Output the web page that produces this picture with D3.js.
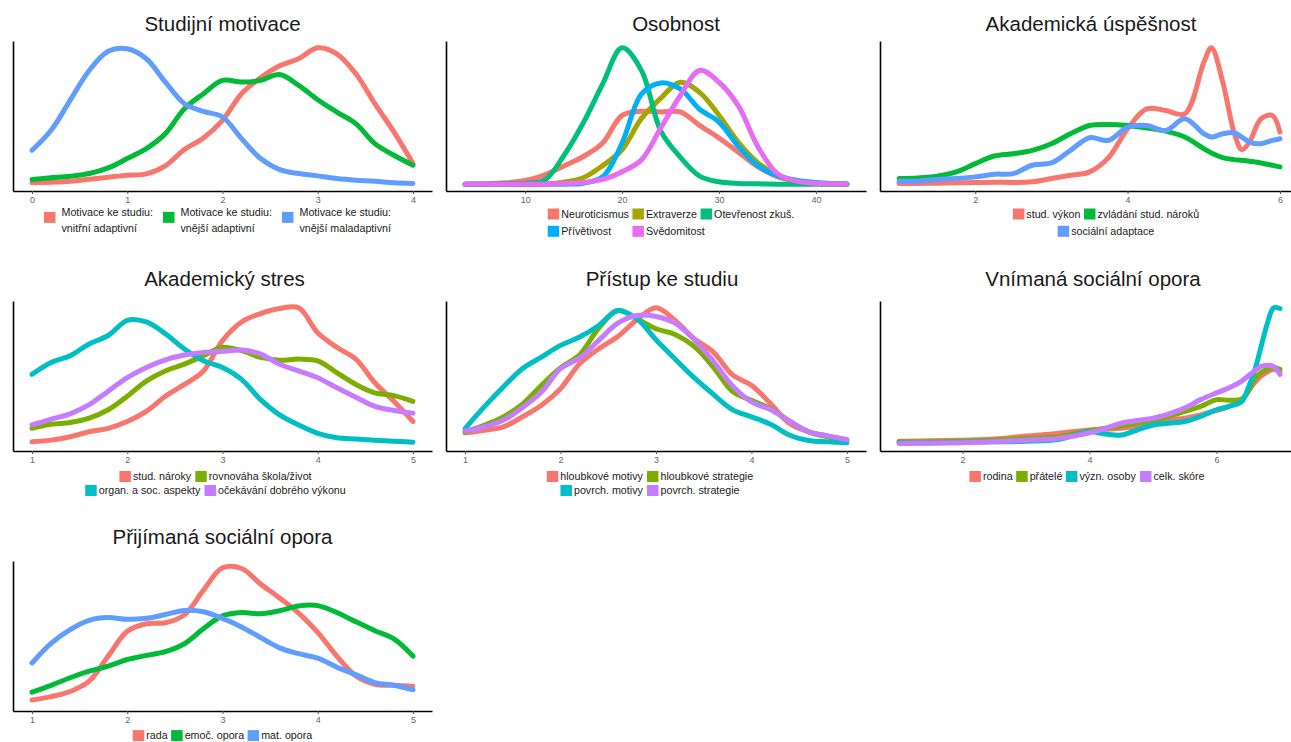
<!DOCTYPE html>
<html>
<head>
<meta charset="utf-8">
<script src="https://cdn.jsdelivr.net/npm/d3@7"></script>
<style>
  body { margin: 0; background: #fff; }
  svg text { font-family: "Liberation Sans", Arial, Helvetica, sans-serif; }
</style>
</head>
<body>
<div id="chart"></div>
<script>
// density curves, values (arbitrary density units, per panel)

// Studijní motivace
const motivX = [0, 0.2, 0.4, 0.6, 0.8, 1, 1.2, 1.4, 1.6, 1.8, 2, 2.2, 2.4, 2.6, 2.8, 3, 3.2, 3.4, 3.6, 3.8, 4];
const motivVnitrni = [4, 6, 9, 15, 21, 27, 31, 55, 104, 139, 192, 272, 320, 356, 377, 410, 392, 332, 242, 157, 62];
const motivVnejsi = [14, 19, 24, 32, 49, 77, 107, 152, 227, 272, 312, 307, 312, 330, 297, 254, 217, 182, 122, 87, 57];
const motivMaladapt = [102, 162, 252, 342, 400, 407, 377, 307, 242, 219, 202, 137, 77, 44, 32, 25, 17, 12, 9, 4, 2];

// Osobnost
const osobX = [3.8, 6, 8, 10, 12, 14, 16, 18, 20, 22, 24, 26, 28, 30, 32, 34, 36, 38, 40, 42, 43.2];
const neuroticismus = [0, 1, 4, 11, 27, 54, 82, 122, 204, 216, 214, 214, 174, 137, 95, 52, 22, 8, 3, 1, 0];
const extraverze = [0, 0, 0, 0, 1, 6, 19, 55, 102, 195, 255, 302, 272, 204, 124, 64, 27, 10, 3, 1, 0];
const otevrenost = [0, 0, 1, 3, 12, 85, 182, 297, 404, 337, 157, 80, 24, 7, 2, 1, 0, 0, 0, 0, 0];
const privetivost = [0, 0, 0, 0, 0, 0, 3, 22, 122, 267, 300, 282, 222, 184, 112, 55, 25, 12, 5, 2, 1];
const svedomitost = [0, 0, 0, 0, 0, 2, 5, 14, 37, 72, 167, 262, 337, 302, 232, 112, 32, 9, 3, 1, 0];

// Akademická úspěšnost
const uspesX = [1, 1.25, 1.5, 1.75, 2, 2.25, 2.5, 2.75, 3, 3.25, 3.5, 3.75, 4, 4.25, 4.5, 4.75, 5, 5.1, 5.25, 5.4, 5.5, 5.6, 5.75, 5.9, 6];
const studVykon = [2, 2, 3, 4, 5, 6, 5, 7, 17, 27, 37, 80, 167, 227, 222, 212, 367, 411, 307, 154, 104, 127, 197, 207, 157];
const zvladani = [17, 19, 24, 37, 62, 85, 92, 102, 122, 152, 177, 180, 177, 169, 160, 142, 107, 94, 80, 74, 72, 69, 64, 57, 52];
const socAdaptace = [9, 9, 14, 17, 22, 30, 32, 57, 64, 102, 140, 132, 172, 177, 162, 197, 152, 142, 152, 155, 142, 127, 122, 132, 137];

// Akademický stres
const stresX = [1, 1.2, 1.4, 1.6, 1.8, 2, 2.2, 2.4, 2.6, 2.8, 3, 3.2, 3.4, 3.6, 3.8, 4, 4.2, 4.4, 4.6, 4.8, 5];
const studNaroky = [7, 12, 22, 37, 47, 67, 97, 142, 177, 217, 307, 362, 387, 402, 404, 330, 287, 252, 182, 127, 67];
const rovnovaha = [47, 59, 64, 77, 102, 142, 187, 217, 237, 262, 287, 277, 257, 249, 252, 247, 212, 177, 152, 144, 127];
const organSoc = [207, 242, 262, 297, 322, 367, 362, 327, 282, 247, 227, 192, 132, 87, 57, 32, 19, 15, 12, 9, 6];
const ocekavani = [57, 74, 90, 117, 157, 197, 227, 250, 264, 272, 275, 279, 267, 237, 217, 197, 167, 139, 112, 100, 92];

// Přístup ke studiu
const pristupX = [1, 1.2, 1.4, 1.6, 1.8, 2, 2.2, 2.4, 2.6, 2.8, 3, 3.2, 3.4, 3.6, 3.8, 4, 4.2, 4.4, 4.6, 4.8, 5];
const hlMotivy = [34, 42, 52, 82, 117, 167, 242, 287, 324, 374, 410, 372, 317, 277, 209, 177, 122, 62, 37, 24, 12];
const hlStrategie = [37, 57, 82, 120, 177, 230, 269, 349, 402, 377, 347, 330, 294, 232, 159, 132, 107, 69, 37, 22, 12];
const povMotivy = [47, 112, 172, 227, 262, 297, 322, 357, 402, 377, 314, 256, 200, 150, 104, 82, 60, 27, 11, 7, 4];
const povStrategie = [40, 52, 72, 110, 157, 227, 259, 312, 364, 387, 384, 364, 314, 250, 176, 127, 104, 69, 37, 25, 14];

// Vnímaná sociální opora
const vnimX = [1, 1.5, 2, 2.5, 3, 3.5, 4, 4.25, 4.5, 4.75, 5, 5.25, 5.5, 5.75, 6, 6.2, 6.4, 6.5, 6.6, 6.7, 6.8, 6.9, 7];
const rodina = [9, 10, 12, 15, 24, 32, 42, 44, 47, 52, 60, 72, 77, 87, 100, 112, 132, 157, 182, 202, 214, 222, 214];
const pratele = [7, 7, 9, 12, 17, 22, 40, 47, 54, 62, 70, 82, 97, 112, 132, 130, 134, 157, 192, 212, 222, 227, 222];
const vyznOsoby = [4, 4, 6, 7, 9, 14, 37, 30, 27, 42, 57, 62, 67, 82, 102, 112, 127, 167, 217, 287, 357, 404, 402];
const celkSkore = [2, 3, 4, 7, 12, 17, 34, 47, 62, 70, 77, 90, 107, 132, 152, 167, 187, 202, 217, 230, 234, 230, 207];

// Přijímaná sociální opora
const prijX = [1, 1.2, 1.4, 1.6, 1.8, 2, 2.2, 2.4, 2.6, 2.8, 3, 3.2, 3.4, 3.6, 3.8, 4, 4.2, 4.4, 4.6, 4.8, 5];
const rada = [12, 22, 37, 67, 140, 212, 234, 237, 260, 332, 397, 395, 350, 309, 265, 209, 140, 82, 58, 55, 52];
const emocOpora = [35, 55, 77, 96, 111, 130, 142, 153, 176, 220, 257, 267, 263, 272, 286, 287, 267, 240, 214, 190, 140];
const matOpora = [120, 177, 217, 244, 252, 247, 250, 261, 273, 269, 250, 225, 194, 164, 147, 134, 108, 86, 63, 55, 42];

// ggplot hue palettes
const pal3 = ['#F8766D', '#00BA38', '#619CFF'];
const pal4 = ['#F8766D', '#7CAE00', '#00BFC4', '#C77CFF'];
const pal5 = ['#F8766D', '#A3A500', '#00BF7D', '#00B0F6', '#E76BF3'];

const panels = [
  { title: 'Studijní motivace', row: 0, col: 0, x: motivX, ticks: [0, 1, 2, 3, 4], colors: pal3,
    series: [{ v: motivVnitrni, label: 'Motivace ke studiu:\nvnitřní adaptivní' },
             { v: motivVnejsi, label: 'Motivace ke studiu:\nvnější adaptivní' },
             { v: motivMaladapt, label: 'Motivace ke studiu:\nvnější maladaptivní' }],
    legendRows: [[0, 1, 2]], titleDx: 0, legendDx: -5, keyGap: 6, itemGap: 10, legY: 21.5, legGap: 17 },
  { title: 'Osobnost', row: 0, col: 1, x: osobX, ticks: [10, 20, 30, 40], colors: pal5,
    series: [{ v: neuroticismus, label: 'Neuroticismus' }, { v: extraverze, label: 'Extraverze' },
             { v: otevrenost, label: 'Otevřenost zkuš.' }, { v: privetivost, label: 'Přívětivost' },
             { v: svedomitost, label: 'Svědomitost' }],
    legendRows: [[0, 1, 2], [3, 4]], grid: true, titleDx: 20, legendDx: 15, legY: 23, legGap: 17.3 },
  { title: 'Akademická úspěšnost', row: 0, col: 2, x: uspesX, ticks: [2, 4, 6], colors: pal3,
    series: [{ v: studVykon, label: 'stud. výkon' }, { v: zvladani, label: 'zvládání stud. nároků' },
             { v: socAdaptace, label: 'sociální adaptace' }],
    legendRows: [[0, 1], [2]], titleDx: 1.5, legendDx: 16.5, legY: 23, legGap: 17.3 },
  { title: 'Akademický stres', row: 1, col: 0, x: stresX, ticks: [1, 2, 3, 4, 5], colors: pal4,
    series: [{ v: studNaroky, label: 'stud. nároky' }, { v: rovnovaha, label: 'rovnováha škola/život' },
             { v: organSoc, label: 'organ. a soc. aspekty' }, { v: ocekavani, label: 'očekávání dobrého výkonu' }],
    legendRows: [[0, 1], [2, 3]], titleDx: 2, legendDx: -7, legY: 25.5, legGap: 14 },
  { title: 'Přístup ke studiu', row: 1, col: 1, x: pristupX, ticks: [1, 2, 3, 4, 5], colors: pal4,
    series: [{ v: hlMotivy, label: 'hloubkové motivy' }, { v: hlStrategie, label: 'hloubkové strategie' },
             { v: povMotivy, label: 'povrch. motivy' }, { v: povStrategie, label: 'povrch. strategie' }],
    legendRows: [[0, 1], [2, 3]], titleDx: 6, legendDx: -6, legY: 25.5, legGap: 14 },
  { title: 'Vnímaná sociální opora', row: 1, col: 2, x: vnimX, ticks: [2, 4, 6], colors: pal4,
    series: [{ v: rodina, label: 'rodina' }, { v: pratele, label: 'přátelé' },
             { v: vyznOsoby, label: 'význ. osoby' }, { v: celkSkore, label: 'celk. skóre' }],
    legendRows: [[0, 1, 2, 3]], titleDx: 3.5, legendDx: -2.5, legY: 25.5, legGap: 14 },
  { title: 'Přijímaná sociální opora', row: 2, col: 0, x: prijX, ticks: [1, 2, 3, 4, 5], colors: pal3,
    series: [{ v: rada, label: 'rada' }, { v: emocOpora, label: 'emoč. opora' }, { v: matOpora, label: 'mat. opora' }],
    legendRows: [[0, 1, 2]], titleDx: 0, legendDx: 0, legY: 24.6, legGap: 14 }
];

const width = 1291, height = 742;
const colLeft = [13, 446, 880], colRight = [432, 866, 1299];
const rowStep = 260, axisTop = 41, axisBottom = 191;
const titleBase = [30.5, 286, 544];
const legendFont = 10.7, keyW = 11.5, keyH = 11, lineH = 16.2;

const svg = d3.select('#chart').append('svg')
  .attr('width', width)
  .attr('height', height);

panels.forEach(drawPanel);

function drawPanel(p) {
  const off = p.row * rowStep;
  const top = axisTop + off, bottom = axisBottom + off;
  const left = colLeft[p.col], right = colRight[p.col];
  const g = svg.append('g');

  const ext = d3.extent(p.x);
  const padX = (ext[1] - ext[0]) * 0.05;
  const x = d3.scaleLinear().domain([ext[0] - padX, ext[1] + padX]).range([left, right]);
  const yMax = d3.max(p.series, s => d3.max(s.v));
  const y = d3.scaleLinear().domain([-yMax * 0.05, yMax * 1.05]).range([bottom, top]);

  const line = d3.line()
    .x((d, i) => x(p.x[i]))
    .y(d => y(Math.max(0, d)))
    .curve(d3.curveCatmullRom.alpha(0.5));

  g.selectAll('path.dens')
    .data(p.series)
    .enter()
    .append('path')
    .attr('class', 'dens')
    .attr('d', s => line(s.v))
    .attr('fill', 'none')
    .attr('stroke', (s, i) => p.colors[i])
    .attr('stroke-width', 5)
    .attr('stroke-linecap', 'round')
    .attr('stroke-linejoin', 'round');

  // axes
  const xAxis = g.append('g')
    .attr('transform', `translate(0,${bottom})`)
    .call(d3.axisBottom(x).tickValues(p.ticks).tickFormat(d3.format('d'))
      .tickSize(3).tickSizeOuter(0).tickPadding(3));
  xAxis.select('.domain').attr('stroke', '#000').attr('stroke-width', 1.6);
  xAxis.selectAll('.tick line').attr('stroke', '#555');
  xAxis.selectAll('.tick text').attr('fill', '#666').attr('font-size', 9)
    .attr('font-family', '"Liberation Sans", Arial, sans-serif');

  const yAxis = g.append('g')
    .attr('transform', `translate(${left},0)`)
    .call(d3.axisLeft(y).tickValues([]).tickSizeOuter(0));
  yAxis.select('.domain').attr('stroke', '#000').attr('stroke-width', 1.6);

  const cx = (left + right) / 2;
  g.append('text')
    .attr('x', cx + p.titleDx)
    .attr('y', titleBase[p.row])
    .attr('text-anchor', 'middle')
    .attr('font-size', 20.5)
    .attr('fill', '#1a1a1a')
    .text(p.title);

  drawLegend(g, p, cx + p.legendDx, bottom + p.legY);
}

function drawLegend(g, p, cx, y0) {
  const keyGap = p.keyGap ?? 2;
  const itemGap = p.itemGap ?? 3.5;

  // build items first, measure, then place
  const items = p.series.map((s, i) => {
    const lines = s.label.split('\n');
    const it = g.append('g');
    const keyY = (lines.length - 1) * lineH * 0.3;
    it.append('rect')
      .attr('x', 0)
      .attr('y', keyY - keyH / 2)
      .attr('width', keyW)
      .attr('height', keyH)
      .attr('fill', p.colors[i]);
    const t = it.append('text')
      .attr('font-size', legendFont)
      .attr('fill', '#1a1a1a');
    lines.forEach((ln, k) => {
      t.append('tspan')
        .attr('x', keyW + keyGap)
        .attr('y', k * lineH)
        .attr('dy', '0.35em')
        .text(ln);
    });
    const w = keyW + keyGap + t.node().getBBox().width;
    return { g: it, w: w };
  });

  let colStarts = null;
  if (p.grid) {
    const first = p.legendRows[0];
    const total = d3.sum(first, i => items[i].w) + itemGap * (first.length - 1);
    let xx = cx - total / 2;
    colStarts = first.map(i => { const s = xx; xx += items[i].w + itemGap; return s; });
  }

  p.legendRows.forEach((row, r) => {
    const rowY = y0 + r * p.legGap;
    if (colStarts) {
      row.forEach((i, j) => items[i].g.attr('transform', `translate(${colStarts[j]},${rowY})`));
    } else {
      const total = d3.sum(row, i => items[i].w) + itemGap * (row.length - 1);
      let xx = cx - total / 2;
      row.forEach(i => {
        items[i].g.attr('transform', `translate(${xx},${rowY})`);
        xx += items[i].w + itemGap;
      });
    }
  });
}
</script>
</body>
</html>
